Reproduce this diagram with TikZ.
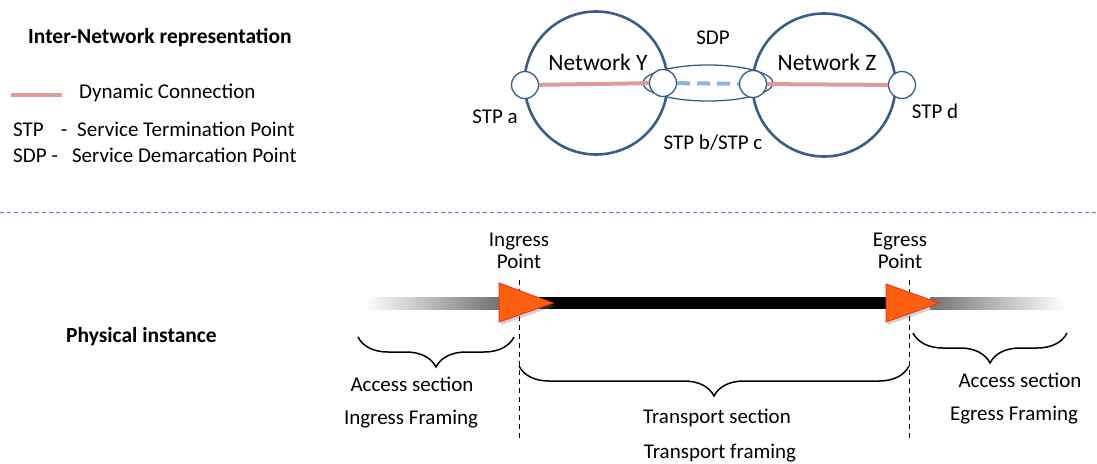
\documentclass[tikz,border=0pt]{standalone}
\usepackage{fontspec}
\setmainfont{Carlito}
\usetikzlibrary{decorations.pathreplacing,shadows}

\definecolor{netblue}{HTML}{385D8A}
\definecolor{dynpink}{HTML}{DC9C9B}
\definecolor{sdpblue}{HTML}{8EB4E3}
\definecolor{sepblue}{HTML}{4A7EBB}
\definecolor{arrfill}{HTML}{FF6010}
\definecolor{arrline}{HTML}{E5391F}

\tikzset{
    lbl/.style={inner sep=0pt, font=\fontsize{21}{22}\selectfont},
    netlbl/.style={inner sep=0pt, font=\fontsize{23.5}{25}\selectfont},
    ttl/.style={inner sep=0pt, anchor=west, font=\bfseries\fontsize{21.5}{24}\selectfont},
    net/.style={circle, draw=netblue, line width=2.6pt, minimum size=143pt, inner sep=0pt},
    stp/.style={circle, draw=netblue, fill=white, line width=1.3pt, minimum size=27pt, inner sep=0pt},
    dyn/.style={draw=dynpink, line width=4pt},
    tri/.style={fill=arrfill, draw=arrline, line width=1pt,
        drop shadow={opacity=0.35, shadow xshift=2pt, shadow yshift=-3pt}},
    brc/.style={decorate, decoration={brace, mirror, amplitude=30pt}, line width=1.5pt},
    mark line/.style={dashed, dash pattern=on 5pt off 4pt, line width=0.9pt}
}

\begin{document}
\begin{tikzpicture}[x=1pt, y=-1pt]
    \useasboundingbox (0,0) rectangle (1097,463);

    % legend
    \node[ttl] (title) at (28,38) {Inter-Network representation};
    \coordinate (lega) at (11,95);
    \coordinate (legb) at (62,95);
    \draw[dyn] (lega) -- (legb);
    \node[lbl, anchor=west] (legdyn) at (79,93) {Dynamic Connection};
    \node[lbl, anchor=west] (legstp) at (13,129) {STP\hspace{17pt}-\hspace{10pt}Service Termination Point};
    \node[lbl, anchor=west] (legsdp) at (13,155) {SDP\hspace{5pt}-\hspace{14pt}Service Demarcation Point};

    % networks
    \node[net] (nety) at (596,83) {};
    \node[net] (netz) at (824,85) {};
    \draw[netblue, line width=1.3pt] (708,83) ellipse [x radius=65, y radius=18];
    \node[stp] (stpa) at (525,85) {};
    \node[stp] (stpb) at (663,83) {};
    \node[stp] (stpc) at (753,84) {};
    \node[stp] (stpd) at (902,85) {};
    \draw[dyn] (stpa) -- (stpb);
    \draw[dyn] (stpc) -- (stpd);
    \draw[sdpblue, line width=4pt, dash pattern=on 13pt off 7pt] (stpb) -- (stpc);
    \node[netlbl] (lbly) at (598,62) {Network Y};
    \node[netlbl] (lblz) at (827,62) {Network Z};
    \node[lbl] (lblsdp) at (713,38) {SDP};
    \node[lbl] (lblbc) at (713,143) {STP b/STP c};
    \node[lbl] (lbla) at (495,117) {STP a};
    \node[lbl] (lbld) at (935,111) {STP d};

    % separator
    \coordinate (sepl) at (0,212);
    \coordinate (sepr) at (1097,212);
    \draw[sepblue, dashed, dash pattern=on 4pt off 3pt, line width=0.9pt] (sepl) -- (sepr);

    % physical instance
    \node[ttl] (phys) at (66,337) {Physical instance};
    \node[lbl, align=center] (ingress) at (519,251) {Ingress\\Point};
    \node[lbl, align=center] (egress) at (900,251) {Egress\\Point};

    \shade[left color=white, right color=black!58] (365,297) rectangle (505,309);
    \fill[black] (505,297) rectangle (895,309);
    \shade[left color=black!55, right color=white] (930,297) rectangle (1065,309);

    \foreach \x/\name in {519/in, 909/eg} {
        \coordinate (\name top) at (\x,280);
        \coordinate (\name bot) at (\x,438);
        \draw[mark line] (\name top) -- (\name bot);
    }

    \draw[tri] (499,283) -- (553,303) -- (499,322) -- cycle;
    \draw[tri] (886,284) -- (939,303) -- (886,322) -- cycle;

    % braces
    \draw[brc] (358,337) -- (514,337);
    \draw[brc] (519,366) -- (909,366);
    \draw[brc] (913,333) -- (1067,333);

    \node[lbl] (accin) at (412,384) {Access section};
    \node[lbl] (framin) at (411,419) {Ingress Framing};
    \node[lbl] (trans) at (717,418) {Transport section};
    \node[lbl] (framtr) at (720,453) {Transport framing};
    \node[lbl] (acceg) at (1020,380) {Access section};
    \node[lbl] (frameg) at (1014,415) {Egress Framing};
\end{tikzpicture}
\end{document}
